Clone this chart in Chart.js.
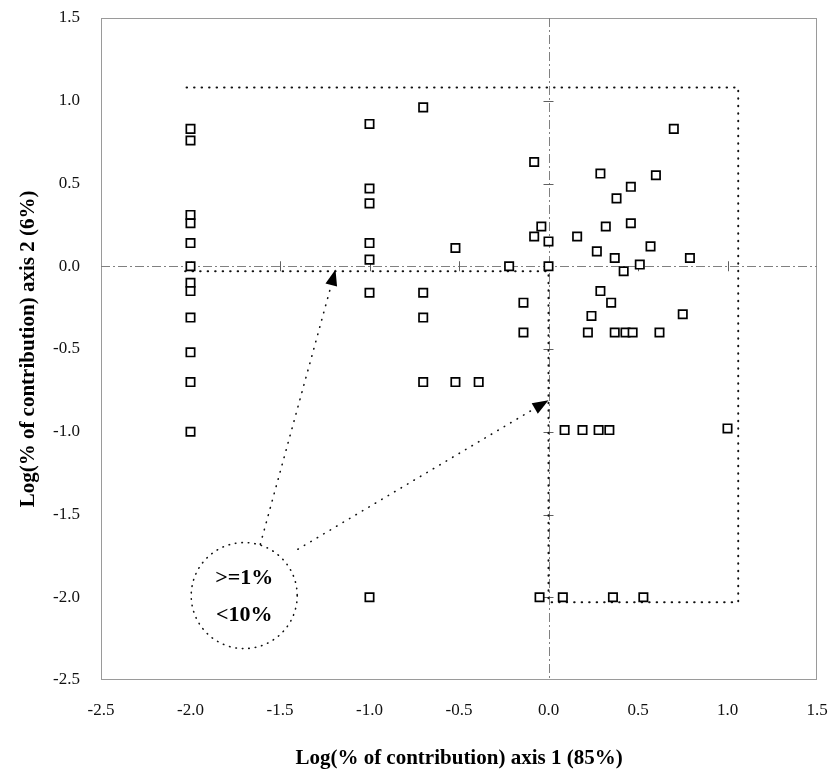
<!DOCTYPE html>
<html>
<head>
<meta charset="utf-8">
<script src="https://cdn.jsdelivr.net/npm/chart.js@4.4.0/dist/chart.umd.min.js"></script>
<style>
  html, body { margin: 0; padding: 0; background: #fff; }
  #wrap { width: 833px; height: 783px; }
</style>
</head>
<body>
<div id="wrap"><canvas id="chart" width="833" height="783"></canvas></div>
<script>
// ==== Data (log10 of % contribution) ====
const xValues = [
  -2, -2, -2, -2, -2, -2, -2, -2, -2, -2, -2, -2,
  -1, -1, -1, -1, -1, -1, -1,
  -0.70, -0.70, -0.70, -0.70,
  -0.52, -0.52, -0.39,
  -0.22, -0.14, -0.14, -0.08, -0.08, -0.04, 0.0, 0.0,
  -0.05, 0.08, 0.36, 0.53,
  0.16, 0.22, 0.24, 0.27, 0.29, 0.29, 0.32, 0.35, 0.37, 0.37,
  0.38, 0.42, 0.43, 0.46, 0.46, 0.47, 0.51, 0.57, 0.60, 0.62,
  0.70, 0.75, 0.79,
  0.09, 0.19, 0.28, 0.34, 1.0
];
const yValues = [
  0.83, 0.76, 0.31, 0.26, 0.14, 0.0, -0.10, -0.15, -0.31, -0.52, -0.70, -1.0,
  0.86, 0.47, 0.38, 0.14, 0.04, -0.16, -2.0,
  0.96, -0.16, -0.31, -0.70,
  0.11, -0.70, -0.70,
  0.0, -0.22, -0.40, 0.63, 0.18, 0.24, 0.15, 0.0,
  -2.0, -2.0, -2.0, -2.0,
  0.18, -0.40, -0.30, 0.09, 0.56, -0.15, 0.24, -0.22, 0.05, -0.40,
  0.41, -0.03, -0.40, 0.48, 0.26, -0.40, 0.01, 0.12, 0.55, -0.40,
  0.83, -0.29, 0.05,
  -0.99, -0.99, -0.99, -0.99, -0.98
];

// axis ticks
const tickMin = -2.5;
const tickMax = 1.5;
const tickStep = 0.5;

const xTitle = "Log(% of contribution) axis 1 (85%)";
const yTitle = "Log(% of contribution) axis 2 (6%)";

// dotted region outline (data coords)
const regionX = [-2.03, 0.0, 0.0, 1.06, 1.06, -2.03];
const regionY = [-0.03, -0.03, -2.03, -2.03, 1.08, 1.08];

// callout circle and arrows (data coords)
const calloutCenter = [-1.70, -1.99];
const calloutLines = [">=1%", "<10%"];
const arrowFrom = [[-1.61, -1.68], [-1.40, -1.71]];
const arrowTo = [[-1.19, -0.02], [0.0, -0.81]];

const points = xValues.map((x, i) => ({ x: x, y: yValues[i] }));

const SERIF = "'Liberation Serif', 'Times New Roman', serif";

function noPad(s) {
  s.paddingTop = 0; s.paddingBottom = 0;
  s.paddingLeft = 0; s.paddingRight = 0;
}

// ==== Decorations ====
const decorPlugin = {
  id: "decor",
  beforeDatasetsDraw(chart) {
    const ctx = chart.ctx;
    const xs = chart.scales.x, ys = chart.scales.y;
    const a = chart.chartArea;
    const px = v => xs.getPixelForValue(v);
    const py = v => ys.getPixelForValue(v);

    ctx.save();
    // frame
    ctx.strokeStyle = "#9a9a9a";
    ctx.lineWidth = 1;
    ctx.strokeRect(a.left + 0.5, a.top + 0.5, a.right - a.left - 1, a.bottom - a.top - 1);

    // zero axes, dash-dot
    ctx.strokeStyle = "#808080";
    ctx.setLineDash([9, 3, 2, 3]);
    ctx.beginPath();
    ctx.moveTo(a.left, Math.round(py(0)) + 0.5);
    ctx.lineTo(a.right, Math.round(py(0)) + 0.5);
    ctx.moveTo(Math.round(px(0)) + 0.5, a.top);
    ctx.lineTo(Math.round(px(0)) + 0.5, a.bottom);
    ctx.stroke();
    ctx.setLineDash([]);

    // small cross ticks on the zero axes
    ctx.strokeStyle = "#606060";
    ctx.beginPath();
    for (let v = tickMin + tickStep; v < tickMax; v += tickStep) {
      if (Math.abs(v) < 1e-9) continue;
      const x = Math.round(px(v)) + 0.5, y = Math.round(py(v)) + 0.5;
      ctx.moveTo(x, py(0) - 5); ctx.lineTo(x, py(0) + 5);
      ctx.moveTo(px(0) - 5, y); ctx.lineTo(px(0) + 5, y);
    }
    ctx.stroke();

    // region outline, heavy dots
    ctx.strokeStyle = "#111";
    ctx.lineWidth = 2;
    ctx.lineCap = "round";
    ctx.setLineDash([0.5, 7]);
    ctx.beginPath();
    regionX.forEach((v, i) => {
      if (i === 0) ctx.moveTo(px(v), py(regionY[i]));
      else ctx.lineTo(px(v), py(regionY[i]));
    });
    ctx.stroke();

    // arrows
    ctx.lineWidth = 1.6;
    ctx.setLineDash([0.5, 7]);
    arrowFrom.forEach((f, i) => {
      const x0 = px(f[0]), y0 = py(f[1]);
      const x1 = px(arrowTo[i][0]), y1 = py(arrowTo[i][1]);
      const ang = Math.atan2(y1 - y0, x1 - x0);
      const L = 16, W = 6;
      const bx = x1 - L * Math.cos(ang), by = y1 - L * Math.sin(ang);
      ctx.beginPath();
      ctx.moveTo(x0, y0);
      ctx.lineTo(bx, by);
      ctx.stroke();
      ctx.setLineDash([]);
      ctx.fillStyle = "#000";
      ctx.beginPath();
      ctx.moveTo(x1, y1);
      ctx.lineTo(bx - W * Math.sin(ang), by + W * Math.cos(ang));
      ctx.lineTo(bx + W * Math.sin(ang), by - W * Math.cos(ang));
      ctx.closePath();
      ctx.fill();
      ctx.setLineDash([0.5, 7]);
    });

    // callout circle
    const cx = px(calloutCenter[0]), cy = py(calloutCenter[1]);
    ctx.lineWidth = 1.6;
    ctx.setLineDash([0.5, 6]);
    ctx.beginPath();
    ctx.arc(cx, cy, 53, 0, Math.PI * 2);
    ctx.stroke();
    ctx.setLineDash([]);

    ctx.fillStyle = "#000";
    ctx.font = "bold 22px " + SERIF;
    ctx.textAlign = "center";
    ctx.textBaseline = "middle";
    ctx.fillText(calloutLines[0], cx, cy - 17);
    ctx.fillText(calloutLines[1], cx, cy + 20);
    ctx.restore();
  }
};

new Chart(document.getElementById("chart"), {
  type: "scatter",
  data: {
    datasets: [{
      data: points,
      pointStyle: "rect",
      pointRadius: 5.9,
      pointHoverRadius: 5.9,
      borderColor: "#000",
      backgroundColor: "#fff",
      borderWidth: 1.7
    }]
  },
  options: {
    responsive: false,
    animation: false,
    layout: { padding: { top: 18, right: 16, left: 0, bottom: 0 } },
    plugins: { legend: { display: false }, tooltip: { enabled: false } },
    scales: {
      x: {
        type: "linear",
        min: tickMin, max: tickMax,
        afterFit(s) { s.height = 103; noPad(s); },
        grid: { display: false, drawTicks: false },
        border: { display: false },
        ticks: {
          stepSize: tickStep,
          padding: 20,
          color: "#111",
          font: { family: SERIF, size: 17 },
          callback: v => Number(v).toFixed(1)
        },
        title: {
          display: true, text: xTitle, color: "#000",
          font: { family: SERIF, size: 21, weight: "bold" },
          padding: { top: 0, bottom: 12 }
        }
      },
      y: {
        type: "linear",
        min: tickMin, max: tickMax,
        afterFit(s) { s.width = 101; noPad(s); },
        grid: { display: false, drawTicks: false },
        border: { display: false },
        ticks: {
          stepSize: tickStep,
          padding: 21,
          color: "#111",
          font: { family: SERIF, size: 17 },
          callback: v => Number(v).toFixed(1)
        },
        title: {
          display: true, text: yTitle, color: "#000",
          font: { family: SERIF, size: 21, weight: "bold" },
          padding: { top: 16, bottom: 0 }
        }
      }
    }
  },
  plugins: [decorPlugin]
});
</script>
</body>
</html>
